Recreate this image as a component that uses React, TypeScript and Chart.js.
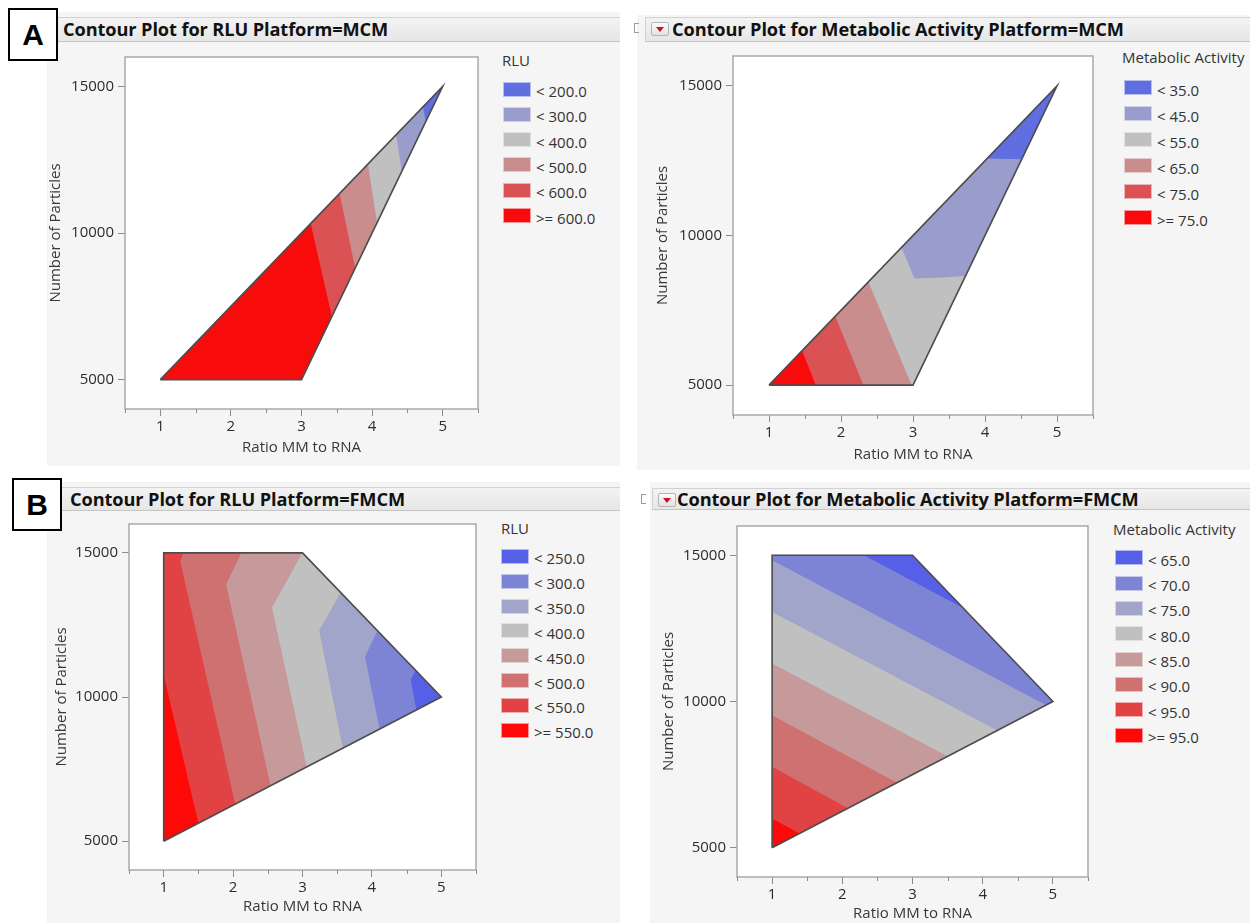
import React, { useEffect, useRef } from 'react';
import { Chart, registerables } from 'chart.js';

Chart.register(...registerables);

type Pt = [number, number];

// ---------- axes ----------
const xTicks = [1, 2, 3, 4, 5];
const xMinorTicks = [0.5, 1.5, 2.5, 3.5, 4.5, 5.5];
const yTicks = [5000, 10000, 15000];
const xRange: Pt = [0.5, 5.5];
const yRange: Pt = [4000, 16000];
const xTitle = 'Ratio MM to RNA';
const yTitle = 'Number of Particles';

// ---------- design regions ----------
const mcmDomain: Pt[] = [[1, 5000], [3, 5000], [5, 15000]];
const fmcmDomain: Pt[] = [[1, 5000], [1, 15000], [3, 15000], [5, 10000]];

// ---------- colours ----------
const sixColors = ['#5f6ee0', '#999dcc', '#c0c0c0', '#c98d8e', '#db5254', '#fa0b0b'];
const eightColors = ['#5560e6', '#7d84d6', '#a2a5ca', '#c0c0c0', '#c69a9b', '#cf7171', '#e14345', '#ff0808'];

// ---------- A left: RLU, MCM ----------
const rluMcmLabels = ['< 200.0', '< 300.0', '< 400.0', '< 500.0', '< 600.0', '>= 600.0'];
const rluMcmBelow600: Pt[] = [[3.13, 10325], [3.43, 7150], [5, 15000]];
const rluMcmBelow500: Pt[] = [[3.54, 11350], [3.76, 8800], [5, 15000]];
const rluMcmBelow400: Pt[] = [[3.94, 12350], [4.07, 10350], [5, 15000]];
const rluMcmBelow300: Pt[] = [[4.34, 13350], [4.42, 12100], [5, 15000]];
const rluMcmBelow200: Pt[] = [[4.72, 14300], [4.76, 13800], [5, 15000]];

// ---------- A right: Metabolic Activity, MCM ----------
const metMcmLabels = ['< 35.0', '< 45.0', '< 55.0', '< 65.0', '< 75.0', '>= 75.0'];
const metMcmBelow75: Pt[] = [[1.46, 6150], [1.65, 5000], [3, 5000], [5, 15000]];
const metMcmBelow65: Pt[] = [[1.92, 7300], [2.31, 5000], [3, 5000], [5, 15000]];
const metMcmBelow55: Pt[] = [[2.38, 8450], [2.98, 5000], [3, 5000], [5, 15000]];
const metMcmBelow45: Pt[] = [[2.84, 9600], [3.02, 8560], [3.4, 8600], [3.73, 8650], [5, 15000]];
const metMcmBelow35: Pt[] = [[4.03, 12575], [4.51, 12550], [5, 15000]];

// ---------- B left: RLU, FMCM ----------
const rluFmcmLabels = ['< 250.0', '< 300.0', '< 350.0', '< 400.0', '< 450.0', '< 500.0', '< 550.0', '>= 550.0'];
const rluFmcmBelow550: Pt[] = [[1, 10770], [1, 15000], [3, 15000], [5, 10000], [1.5, 5625]];
const rluFmcmBelow500: Pt[] = [[1.28, 15000], [3, 15000], [5, 10000], [2.03, 6290], [1.24, 14700]];
const rluFmcmBelow450: Pt[] = [[2.12, 15000], [3, 15000], [5, 10000], [2.54, 6925], [1.9, 13900]];
const rluFmcmBelow400: Pt[] = [[3, 15000], [5, 10000], [3.06, 7575], [2.56, 13100]];
const rluFmcmBelow350: Pt[] = [[3.55, 13625], [5, 10000], [3.58, 8225], [3.24, 12300]];
const rluFmcmBelow300: Pt[] = [[4.08, 12300], [5, 10000], [4.11, 8888], [3.9, 11400]];
const rluFmcmBelow250: Pt[] = [[4.63, 10925], [5, 10000], [4.64, 9550], [4.56, 10600]];

// ---------- B right: Metabolic Activity, FMCM ----------
const metFmcmLabels = ['< 65.0', '< 70.0', '< 75.0', '< 80.0', '< 85.0', '< 90.0', '< 95.0', '>= 95.0'];
const metFmcmBelow95: Pt[] = [[1, 6000], [1, 15000], [3, 15000], [5, 10000], [1.39, 5490]];
const metFmcmBelow90: Pt[] = [[1, 7770], [1, 15000], [3, 15000], [5, 10000], [2.08, 6350]];
const metFmcmBelow85: Pt[] = [[1, 9530], [1, 15000], [3, 15000], [5, 10000], [2.78, 7225]];
const metFmcmBelow80: Pt[] = [[1, 11300], [1, 15000], [3, 15000], [5, 10000], [3.5, 8125]];
const metFmcmBelow75: Pt[] = [[1, 13060], [1, 15000], [3, 15000], [5, 10000], [4.21, 9012]];
const metFmcmBelow70: Pt[] = [[1, 14830], [1, 15000], [3, 15000], [5, 10000], [4.9, 9880]];
const metFmcmBelow65: Pt[] = [[2.31, 15000], [3, 15000], [3.72, 13200]];

const FONT = "'Open Sans', 'Noto Sans', sans-serif";
const TXT = '#2c2c2c';
const AXFS = 15;

interface PanelSpec {
  title: string;
  legendTitle: string;
  labels: string[];
  colors: string[];
  domain: Pt[];
  regions: Pt[][]; // painter order: base (highest level) first
  bg: { l: number; t: number; r: number; b: number };
  header: { l: number; t: number; r: number; h: number; textL: number; button: boolean };
  canvas: { l: number; t: number; r: number; b: number };
  frame: { l: number; t: number; r: number; b: number };
  yTitleX: number;
  xTitleY: number;
  legend: { titleL: number; titleY: number; swL: number; textL: number; y0: number; step: number };
}

const panels: PanelSpec[] = [
  {
    title: 'Contour Plot for RLU Platform=MCM',
    legendTitle: 'RLU',
    labels: rluMcmLabels,
    colors: sixColors,
    domain: mcmDomain,
    regions: [mcmDomain, rluMcmBelow600, rluMcmBelow500, rluMcmBelow400, rluMcmBelow300, rluMcmBelow200],
    bg: { l: 47, t: 12, r: 620, b: 466 },
    header: { l: 55, t: 17, r: 620, h: 25, textL: 63, button: false },
    canvas: { l: 47, t: 43, r: 490, b: 464 },
    frame: { l: 125, t: 57, r: 478, b: 409 },
    yTitleX: 55.5,
    xTitleY: 448,
    legend: { titleL: 502, titleY: 60, swL: 504, textL: 536, y0: 89, step: 25.3 },
  },
  {
    title: 'Contour Plot for Metabolic Activity Platform=MCM',
    legendTitle: 'Metabolic Activity',
    labels: metMcmLabels,
    colors: sixColors,
    domain: mcmDomain,
    regions: [mcmDomain, metMcmBelow75, metMcmBelow65, metMcmBelow55, metMcmBelow45, metMcmBelow35],
    bg: { l: 637, t: 15, r: 1250, b: 470 },
    header: { l: 645, t: 17, r: 1250, h: 25, textL: 672, button: true },
    canvas: { l: 640, t: 42, r: 1105, b: 470 },
    frame: { l: 733, t: 56, r: 1093, b: 415 },
    yTitleX: 663,
    xTitleY: 455,
    legend: { titleL: 1122, titleY: 57, swL: 1125, textL: 1157, y0: 87.7, step: 26 },
  },
  {
    title: 'Contour Plot for RLU Platform=FMCM',
    legendTitle: 'RLU',
    labels: rluFmcmLabels,
    colors: eightColors,
    domain: fmcmDomain,
    regions: [fmcmDomain, rluFmcmBelow550, rluFmcmBelow500, rluFmcmBelow450, rluFmcmBelow400, rluFmcmBelow350, rluFmcmBelow300, rluFmcmBelow250],
    bg: { l: 47, t: 482, r: 620, b: 923 },
    header: { l: 57, t: 487, r: 620, h: 24, textL: 70, button: false },
    canvas: { l: 47, t: 510, r: 490, b: 921 },
    frame: { l: 129, t: 524, r: 476, b: 870 },
    yTitleX: 62,
    xTitleY: 907,
    legend: { titleL: 501, titleY: 528, swL: 502, textL: 534, y0: 556.3, step: 24.85 },
  },
  {
    title: 'Contour Plot for Metabolic Activity Platform=FMCM',
    legendTitle: 'Metabolic Activity',
    labels: metFmcmLabels,
    colors: eightColors,
    domain: fmcmDomain,
    regions: [fmcmDomain, metFmcmBelow95, metFmcmBelow90, metFmcmBelow85, metFmcmBelow80, metFmcmBelow75, metFmcmBelow70, metFmcmBelow65],
    bg: { l: 650, t: 482, r: 1250, b: 923 },
    header: { l: 652, t: 488, r: 1250, h: 22, textL: 677, button: true },
    canvas: { l: 650, t: 512, r: 1100, b: 923 },
    frame: { l: 737, t: 526, r: 1088, b: 877 },
    yTitleX: 669,
    xTitleY: 915,
    legend: { titleL: 1113, titleY: 529, swL: 1116, textL: 1148, y0: 557.7, step: 25.33 },
  },
];

const framePlugin = {
  id: 'jmpFrame',
  beforeDraw(chart: any) {
    const { ctx, chartArea: a } = chart;
    ctx.save();
    ctx.fillStyle = '#ffffff';
    ctx.fillRect(a.left, a.top, a.right - a.left, a.bottom - a.top);
    ctx.restore();
  },
  afterDraw(chart: any) {
    const { ctx, chartArea: a } = chart;
    const xs = chart.scales.x;
    ctx.save();
    ctx.strokeStyle = '#a9a9a9';
    ctx.lineWidth = 1.5;
    ctx.strokeRect(a.left, a.top, a.right - a.left, a.bottom - a.top);
    ctx.lineWidth = 1;
    ctx.strokeStyle = '#8c8c8c';
    ctx.beginPath();
    for (const v of xMinorTicks) {
      const px = Math.round(xs.getPixelForValue(v)) + 0.5;
      ctx.moveTo(px, a.bottom);
      ctx.lineTo(px, a.bottom + 4);
    }
    ctx.stroke();
    ctx.restore();
  },
};

function ContourPlot({ p }: { p: PanelSpec }) {
  const ref = useRef<HTMLCanvasElement>(null);
  const cw = p.canvas.r - p.canvas.l;
  const ch = p.canvas.b - p.canvas.t;
  useEffect(() => {
    const canvas = ref.current;
    if (!canvas) return;
    const n = p.regions.length;
    const datasets: any[] = p.regions.map((pts, i) => ({
      data: pts.map(([x, y]) => ({ x, y })),
      showLine: true,
      fill: 'shape',
      backgroundColor: p.colors[n - 1 - i],
      borderColor: p.colors[n - 1 - i],
      borderWidth: 0,
      pointRadius: 0,
      pointHoverRadius: 0,
      tension: 0,
      order: n - i + 1,
    }));
    datasets.push({
      data: [...p.domain, p.domain[0]].map(([x, y]) => ({ x, y })),
      showLine: true,
      fill: false,
      borderColor: '#4d4d4d',
      borderWidth: 1.6,
      pointRadius: 0,
      pointHoverRadius: 0,
      tension: 0,
      order: 0,
    });
    const yAxisW = p.frame.l - p.canvas.l;
    const xAxisH = p.canvas.b - p.frame.b;
    const lh = AXFS * 1.2;
    const yTitlePad = Math.max(0, p.yTitleX - p.canvas.l - lh / 2);
    const xTitlePad = Math.max(0, p.canvas.b - p.xTitleY - lh / 2);
    const chart = new Chart(canvas, {
      type: 'scatter',
      data: { datasets },
      plugins: [framePlugin],
      options: {
        animation: false,
        responsive: false,
        devicePixelRatio: 1,
        events: [],
        layout: {
          padding: { left: 0, top: p.frame.t - p.canvas.t, right: p.canvas.r - p.frame.r, bottom: 0 },
        },
        plugins: { legend: { display: false }, tooltip: { enabled: false }, title: { display: false } },
        scales: {
          x: {
            type: 'linear',
            position: 'bottom',
            min: xRange[0],
            max: xRange[1],
            afterBuildTicks: (s: any) => {
              s.ticks = xTicks.map((v) => ({ value: v }));
            },
            afterFit: (s: any) => {
              s.height = xAxisH;
            },
            grid: { drawOnChartArea: false, drawTicks: true, tickLength: 7, color: '#8c8c8c', lineWidth: 1 },
            border: { display: false },
            ticks: {
              color: TXT,
              font: { family: FONT, size: AXFS },
              padding: 2,
              maxRotation: 0,
              autoSkip: false,
              callback: (v: any) => String(v),
            },
            title: {
              display: true,
              text: xTitle,
              color: '#383838',
              font: { family: FONT, size: AXFS },
              padding: { top: 0, bottom: xTitlePad },
            },
          },
          y: {
            type: 'linear',
            position: 'left',
            min: yRange[0],
            max: yRange[1],
            afterBuildTicks: (s: any) => {
              s.ticks = yTicks.map((v) => ({ value: v }));
            },
            afterFit: (s: any) => {
              s.width = yAxisW;
            },
            grid: { drawOnChartArea: false, drawTicks: true, tickLength: 7, color: '#8c8c8c', lineWidth: 1 },
            border: { display: false },
            ticks: {
              color: TXT,
              font: { family: FONT, size: AXFS },
              padding: 4,
              autoSkip: false,
              callback: (v: any) => String(v),
            },
            title: {
              display: true,
              text: yTitle,
              color: '#383838',
              font: { family: FONT, size: AXFS },
              padding: { top: yTitlePad, bottom: 0 },
            },
          },
        },
      } as any,
    });
    return () => chart.destroy();
  }, [p]);
  return (
    <canvas
      ref={ref}
      width={cw}
      height={ch}
      style={{ position: 'absolute', left: p.canvas.l, top: p.canvas.t, width: cw, height: ch }}
    />
  );
}

function Header({ p }: { p: PanelSpec }) {
  const h = p.header;
  return (
    <>
      <div
        style={{
          position: 'absolute',
          left: h.l,
          top: h.t,
          width: h.r - h.l,
          height: h.h,
          background: 'linear-gradient(#f3f3f3, #e6e6e6)',
          borderTop: '1px solid #d2d2d2',
          borderBottom: '1px solid #c4c4c4',
          borderLeft: '1px solid #d2d2d2',
          boxSizing: 'border-box',
        }}
      />
      {h.button && (
        <>
          <div
            style={{
              position: 'absolute',
              left: h.l - 11,
              top: h.t + 6,
              width: 5,
              height: 10,
              border: '1px solid #9a9a9a',
              borderRight: 'none',
              boxSizing: 'border-box',
            }}
          />
          <div
            style={{
              position: 'absolute',
              left: h.l + 6,
              top: h.t + 5,
              width: 18,
              height: 14,
              boxSizing: 'border-box',
              border: '1px solid #b5b5b5',
              borderRadius: 2,
              background: 'linear-gradient(#fbfbfb, #e2e2e2)',
            }}
          >
            <div
              style={{
                position: 'absolute',
                left: 4,
                top: 4,
                width: 0,
                height: 0,
                borderLeft: '4.5px solid transparent',
                borderRight: '4.5px solid transparent',
                borderTop: '5px solid #d0101a',
              }}
            />
          </div>
        </>
      )}
      <div
        style={{
          position: 'absolute',
          left: h.textL,
          top: h.t,
          height: h.h,
          lineHeight: h.h + 'px',
          fontFamily: FONT,
          fontWeight: 700,
          fontSize: 18.2,
          color: '#111',
          whiteSpace: 'nowrap',
          letterSpacing: -0.1,
        }}
      >
        {p.title}
      </div>
    </>
  );
}

function Legend({ p }: { p: PanelSpec }) {
  const L = p.legend;
  return (
    <>
      <div
        style={{
          position: 'absolute',
          left: L.titleL,
          top: L.titleY - 10,
          height: 20,
          lineHeight: '20px',
          fontFamily: FONT,
          fontSize: 15,
          color: '#333',
          whiteSpace: 'nowrap',
        }}
      >
        {p.legendTitle}
      </div>
      {p.labels.map((lab, i) => {
        const cy = L.y0 + i * L.step;
        return (
          <React.Fragment key={lab}>
            <div
              style={{
                position: 'absolute',
                left: L.swL,
                top: cy - 6.5,
                width: 26,
                height: 13,
                background: p.colors[i],
                boxShadow: '0 0 0 1px ' + p.colors[i] + '66',
              }}
            />
            <div
              style={{
                position: 'absolute',
                left: L.textL,
                top: cy + 2 - 10,
                height: 20,
                lineHeight: '20px',
                fontFamily: FONT,
                fontSize: 15,
                color: '#333',
                whiteSpace: 'nowrap',
              }}
            >
              {lab}
            </div>
          </React.Fragment>
        );
      })}
    </>
  );
}

function LetterBox({ letter, l, t }: { letter: string; l: number; t: number }) {
  return (
    <div
      style={{
        position: 'absolute',
        left: l,
        top: t,
        width: 50,
        height: 53,
        boxSizing: 'border-box',
        border: '2px solid #000',
        background: '#fff',
        fontFamily: "'Liberation Sans', Arial, sans-serif",
        fontWeight: 700,
        fontSize: 30,
        lineHeight: '49px',
        textAlign: 'center',
        color: '#000',
      }}
    >
      {letter}
    </div>
  );
}

export default function App() {
  return (
    <div
      style={{
        position: 'absolute',
        left: 0,
        top: 0,
        width: 1250,
        height: 923,
        overflow: 'hidden',
        background: '#ffffff',
      }}
    >
      {panels.map((p, i) => (
        <React.Fragment key={i}>
          <div
            style={{
              position: 'absolute',
              left: p.bg.l,
              top: p.bg.t,
              width: p.bg.r - p.bg.l,
              height: p.bg.b - p.bg.t,
              background: '#f5f5f5',
            }}
          />
          <Header p={p} />
          <ContourPlot p={p} />
          <Legend p={p} />
        </React.Fragment>
      ))}
      <LetterBox letter="A" l={8} t={8} />
      <LetterBox letter="B" l={12} t={478} />
    </div>
  );
}
